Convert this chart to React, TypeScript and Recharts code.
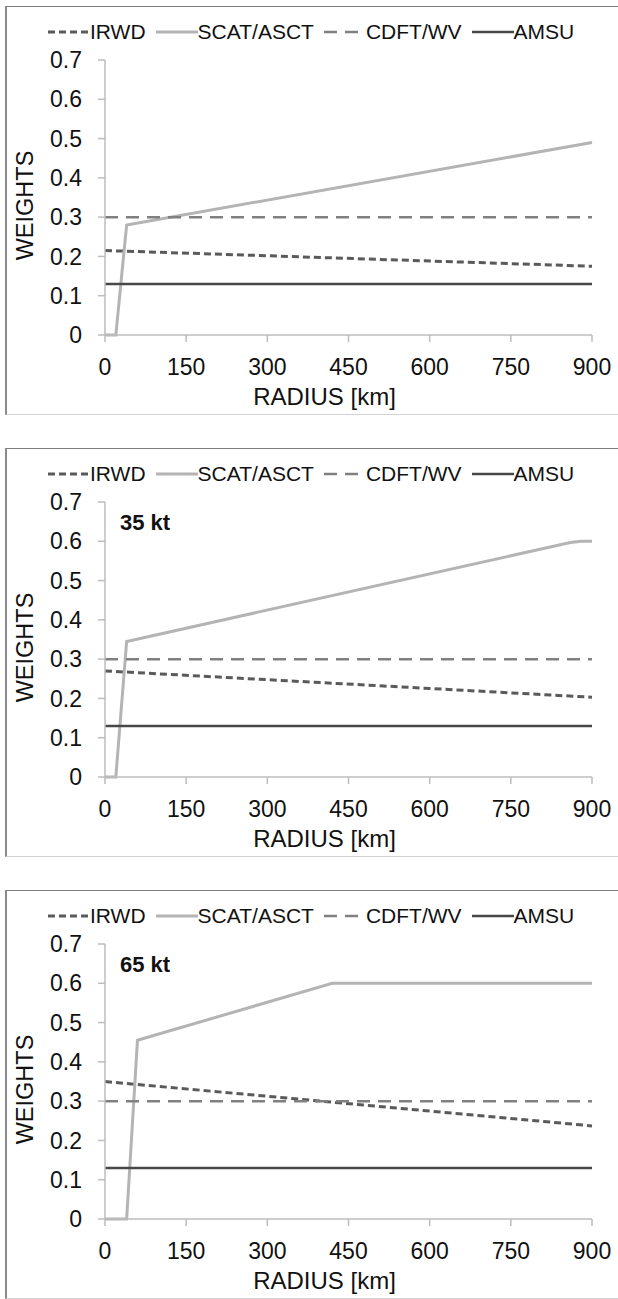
import React from 'react';
import { LineChart, Line, XAxis, YAxis, Legend, Label } from 'recharts';

// axis ticks
const radiusTicks = [0, 150, 300, 450, 600, 750, 900];
const weightTicks = [0, 0.1, 0.2, 0.3, 0.4, 0.5, 0.6, 0.7];

// one entry per panel (top, 35 kt, 65 kt)
const panelTitles = ['', '35 kt', '65 kt'];

const irwdRadius = [0, 900];
const irwdWeights = [
  [0.215, 0.175],
  [0.27, 0.203],
  [0.35, 0.237],
];

const scatRadius = [
  [0, 20, 40, 900],
  [0, 20, 40, 860, 880, 900],
  [0, 40, 60, 420, 900],
];
const scatWeights = [
  [0, 0, 0.28, 0.49],
  [0, 0, 0.345, 0.597, 0.6, 0.6],
  [0, 0, 0.455, 0.6, 0.6],
];

const flatRadius = [0, 900];
const cdftWeights = [0.3, 0.3, 0.3];
const amsuWeights = [0.13, 0.13, 0.13];

const FONT = '"Liberation Sans", Arial, Helvetica, sans-serif';
const CHART_W = 613;
const CHART_H = 409;
const PANEL_TOPS = [6, 448, 890];

const series = [
  { key: 'irwd', name: 'IRWD', color: '#5a5a5a', width: 3, dash: '7 4' },
  { key: 'scat', name: 'SCAT/ASCT', color: '#b4b4b4', width: 3, dash: undefined },
  { key: 'cdft', name: 'CDFT/WV', color: '#808080', width: 2.5, dash: '13 8' },
  { key: 'amsu', name: 'AMSU', color: '#474747', width: 2.5, dash: undefined },
];

function toRows(radius: number[], weights: number[]) {
  return radius.map((r, i) => ({ r, w: weights[i] }));
}

function panelData(i: number) {
  return {
    irwd: toRows(irwdRadius, irwdWeights[i]),
    scat: toRows(scatRadius[i], scatWeights[i]),
    cdft: toRows(flatRadius, [cdftWeights[i], cdftWeights[i]]),
    amsu: toRows(flatRadius, [amsuWeights[i], amsuWeights[i]]),
  } as Record<string, { r: number; w: number }[]>;
}

function LegendRow() {
  return (
    <div
      style={{
        display: 'flex',
        alignItems: 'center',
        paddingLeft: 43,
        fontFamily: FONT,
        fontSize: 21,
        lineHeight: '24px',
        color: '#111',
        whiteSpace: 'nowrap',
      }}
    >
      {series.map((s, i) => (
        <div key={s.key} style={{ display: 'flex', alignItems: 'center', marginLeft: i ? 10 : 0 }}>
          <svg width={42} height={10} style={{ display: 'block' }}>
            <line
              x1={0}
              y1={5}
              x2={42}
              y2={5}
              stroke={s.color}
              strokeWidth={s.width}
              strokeDasharray={s.dash}
            />
          </svg>
          <span>{s.name}</span>
        </div>
      ))}
    </div>
  );
}

function WeightsLabel(props: any) {
  const vb = props.viewBox || { x: 0, y: 54, width: 100, height: 275 };
  const x = vb.x + 20;
  const y = vb.y + vb.height / 2 + 8;
  return (
    <text
      x={x}
      y={y}
      transform={`rotate(-90 ${x} ${y})`}
      textAnchor="middle"
      dy="0.36em"
      fontFamily={FONT}
      fontSize={23.5}
      fill="#111"
    >
      WEIGHTS
    </text>
  );
}

function RadiusLabel(props: any) {
  const vb = props.viewBox || { x: 100, y: 329, width: 487, height: 80 };
  return (
    <text
      x={vb.x + vb.width / 2 - 24}
      y={vb.y + 61}
      textAnchor="middle"
      dy="0.36em"
      fontFamily={FONT}
      fontSize={24}
      fill="#111"
    >
      RADIUS [km]
    </text>
  );
}

const axisStroke = { stroke: '#bdbdbd', strokeWidth: 1.5 };
const tickStyle = { fill: '#111', fontSize: 23, fontFamily: FONT };

function Panel({ index }: { index: number }) {
  const data = panelData(index);
  const top = PANEL_TOPS[index];
  return (
    <>
      <div style={{ position: 'absolute', left: 5, top, width: CHART_W, height: CHART_H }}>
        <LineChart
          width={CHART_W}
          height={CHART_H}
          margin={{ top: 54, right: 26, left: 0, bottom: 0 }}
        >
          <XAxis
            type="number"
            dataKey="r"
            domain={[0, 900]}
            ticks={radiusTicks}
            interval={0}
            height={80}
            axisLine={axisStroke}
            tickLine={axisStroke}
            tickSize={7}
            tickMargin={17}
            tick={tickStyle}
          >
            <Label content={RadiusLabel} />
          </XAxis>
          <YAxis
            type="number"
            domain={[0, 0.7]}
            ticks={weightTicks}
            interval={0}
            width={100}
            axisLine={axisStroke}
            tickLine={axisStroke}
            tickSize={7}
            tickMargin={16}
            tick={tickStyle}
            tickFormatter={(v: number) => String(v)}
          >
            <Label content={WeightsLabel} />
          </YAxis>
          <Legend
            layout="horizontal"
            verticalAlign="middle"
            align="center"
            wrapperStyle={{ top: 14, left: 0, width: CHART_W }}
            content={() => <LegendRow />}
          />
          {series.map((s) => (
            <Line
              key={s.key}
              data={data[s.key]}
              dataKey="w"
              name={s.name}
              type="linear"
              stroke={s.color}
              strokeWidth={s.width}
              strokeDasharray={s.dash}
              dot={false}
              activeDot={false}
              isAnimationActive={false}
            />
          ))}
        </LineChart>
        {panelTitles[index] && (
          <div
            style={{
              position: 'absolute',
              left: 115,
              top: 62,
              fontFamily: FONT,
              fontWeight: 'bold',
              fontSize: 22,
              lineHeight: '26px',
              color: '#111',
            }}
          >
            {panelTitles[index]}
          </div>
        )}
      </div>
      <div
        style={{
          position: 'absolute',
          left: 5,
          top,
          width: CHART_W,
          height: CHART_H,
          boxSizing: 'border-box',
          borderTop: '1.5px solid #7d7d7d',
          borderLeft: '2px solid #8a8a8a',
          borderBottom: '1.5px solid #d2d2d2',
          pointerEvents: 'none',
        }}
      />
    </>
  );
}

export default function App() {
  return (
    <div style={{ position: 'absolute', left: 0, top: 0, width: 618, height: 1299, background: '#fff' }}>
      {panelTitles.map((_, i) => (
        <Panel key={i} index={i} />
      ))}
    </div>
  );
}
